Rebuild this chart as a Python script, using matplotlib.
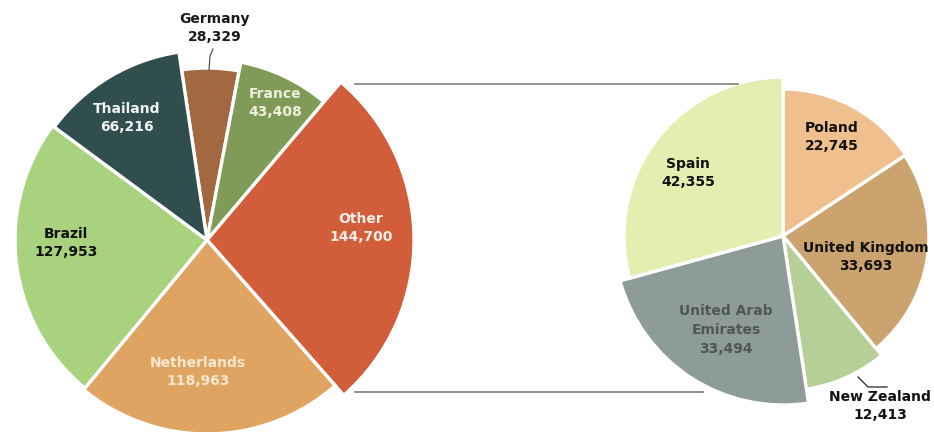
import matplotlib
matplotlib.use("Agg")
import matplotlib.pyplot as plt

# ---- data ----
left_labels = ["Germany", "France", "Other", "Netherlands", "Brazil", "Thailand"]
left_values = [28329, 43408, 144700, 118963, 127953, 66216]
right_labels = ["Poland", "United Kingdom", "New Zealand", "United Arab\nEmirates", "Spain"]
right_values = [22745, 33693, 12413, 33494, 42355]

# ---- style ----
left_colors = ["#a2683f", "#809b58", "#d25d3b", "#e0a462", "#a9d27f", "#2f4e4d"]
right_colors = ["#f0bf8e", "#cba36f", "#b6cf96", "#8e9c99", "#e2efb1"]
left_radii = [172, 181, 207, 194, 192, 190]
right_radii = [147, 146, 155, 169, 159]
left_text_colors = ["#1a1a1a", "#eef0dc", "#fbeee6", "#f6e8cf", "#111111", "#f2f2f2"]
right_text_colors = ["#111111", "#111111", "#111111", "#4f5755", "#111111"]
left_label_pos = [(215, 28), (275, 103), (361, 228), (198, 372), (66, 243), (127, 118)]
right_label_pos = [(832, 137), (866, 257), (880, 406), (726, 330), (688, 173)]

W, H = 934, 432
fig = plt.figure(figsize=(W / 100, H / 100), dpi=100)
ax = fig.add_axes([0, 0, 1, 1])


def Y(y):
    return H - y


def draw_pie(values, colors, radii, center, start):
    wedges, _ = ax.pie(values, colors=colors, center=center, radius=max(radii),
                       startangle=start, counterclock=False, frame=True,
                       wedgeprops=dict(edgecolor="white", linewidth=2.4))
    for w, r in zip(wedges, radii):
        w.set_radius(r)
    return wedges


lw = draw_pie(left_values, left_colors, left_radii, (207, Y(240)), 98.5)
rw = draw_pie(right_values, right_colors, right_radii, (783, Y(236)), 90)
ax.set_xlim(0, W)
ax.set_ylim(0, H)
ax.set_aspect("equal")
ax.axis("off")

# connector lines
ax.plot([355, 738], [Y(84), Y(84)], color="#8a8a8a", lw=1.3)
ax.plot([355, 703], [Y(392), Y(392)], color="#8a8a8a", lw=1.3)

# leader lines
ax.plot([213, 210, 209], [Y(49), Y(56), Y(70)], color="#555555", lw=0.9)
ax.plot([858, 868, 887], [Y(377), Y(387), Y(387)], color="#222222", lw=0.9)

FS = 10


def label(name, value, pos, color):
    x, y = pos
    ax.text(x, Y(y), f"{name}\n{value:,}", ha="center", va="center",
            fontsize=FS, fontweight="bold", color=color, linespacing=1.45,
            family="DejaVu Sans")


for n, v, p, c in zip(left_labels, left_values, left_label_pos, left_text_colors):
    label(n, v, p, c)
for n, v, p, c in zip(right_labels, right_values, right_label_pos, right_text_colors):
    label(n, v, p, c)

fig.savefig("out.png", dpi=100)
